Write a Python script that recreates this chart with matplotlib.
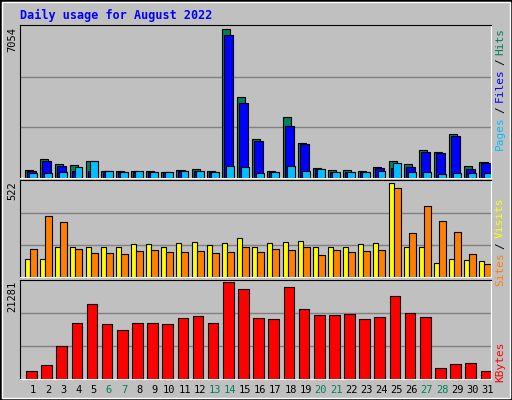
import matplotlib
matplotlib.use("Agg")
import matplotlib.pyplot as plt
from matplotlib.patches import Rectangle
import numpy as np

days = list(range(1, 32))
weekend = [6, 7, 13, 14, 20, 21, 27, 28]
hits = [400, 925, 686, 638, 830, 351, 351, 351, 351, 303, 400, 447, 351, 7054, 3846, 1835, 351, 2889, 1644, 495, 400, 400, 351, 543, 830, 686, 1309, 1213, 2075, 590, 782]
files = [351, 830, 590, 319, 319, 351, 303, 303, 303, 303, 351, 351, 303, 6783, 3559, 1740, 303, 2458, 1596, 447, 303, 303, 303, 495, 479, 543, 1213, 1165, 1979, 447, 734]
pages = [255, 255, 303, 543, 830, 351, 303, 351, 303, 303, 351, 351, 303, 590, 543, 255, 303, 590, 351, 447, 303, 303, 303, 351, 734, 303, 303, 207, 255, 255, 255]
visits = [99, 99, 161, 161, 166, 166, 161, 177, 177, 161, 183, 188, 172, 183, 210, 161, 183, 188, 194, 166, 166, 161, 177, 183, 509, 161, 161, 77, 99, 94, 89]
sites = [155, 332, 299, 155, 133, 133, 127, 144, 149, 138, 138, 144, 133, 138, 166, 138, 155, 149, 166, 122, 149, 138, 144, 149, 482, 238, 387, 304, 243, 127, 72]
kbytes = [1709, 3107, 7301, 12427, 16621, 12194, 10796, 12427, 12427, 12194, 13359, 13825, 12427, 21281, 19884, 13359, 13126, 20350, 15456, 14058, 14058, 14291, 13126, 13592, 18252, 14524, 13592, 2408, 3340, 3573, 1709]

BG = "#C0C0C0"
W, H = 512, 400
fig = plt.figure(figsize=(5.12, 4.0), dpi=100, facecolor=BG)
fig.patches.append(Rectangle((0, 0), 1, 1, transform=fig.transFigure, fill=False, ec="black", lw=2))
fig.patches.append(Rectangle((2/W, 2/H), 1-4/W, 1-4/H, transform=fig.transFigure, fill=False, ec="white", lw=1))

def ax_at(x0, y0, x1, y1):
    ax = fig.add_axes([x0/W, 1-y1/H, (x1-x0)/W, (y1-y0)/H])
    ax.set_facecolor(BG)
    ax.set_xlim(0.14, 31.23)
    for s in ["left", "top"]:
        ax.spines[s].set_color("black")
    for s in ["right", "bottom"]:
        ax.spines[s].set_color("white")
    ax.set_xticks([]); ax.set_yticks([])
    return ax

x = np.array(days, dtype=float)
mono = "DejaVu Sans Mono"

def bars(ax, vals, l, r, color):
    ax.bar(x + l, vals, width=r-l, align="edge", color=color, edgecolor="black", lw=0.8)

def grid(ax, top):
    for f in (1/3, 2/3):
        ax.axhline(top*f, color="#808080", lw=1, zorder=0)

a1 = ax_at(20, 25, 491, 178)
a1.set_ylim(0, max(hits) * 1.03)
grid(a1, max(hits)*1.02)
bars(a1, hits, -0.53, 0.0, "#00805C")
bars(a1, files, -0.4, 0.2, "#0000FF")
bars(a1, pages, -0.26, 0.26, "#00C0FF")
a1.text(-0.005, 0.99, str(max(hits)), transform=a1.transAxes, rotation=90, ha="right", va="top", fontsize=7.5, family=mono)

a2 = ax_at(20, 180, 491, 277)
a2.set_ylim(0, 528)
grid(a2, 520)
bars(a2, visits, -0.53, -0.2, "#FFFF00")
bars(a2, sites, -0.2, 0.26, "#FF8000")
a2.text(-0.005, 0.99, "522", transform=a2.transAxes, rotation=90, ha="right", va="top", fontsize=7.5, family=mono)

a3 = ax_at(20, 280, 491, 379)
a3.set_ylim(0, max(kbytes)*1.025)
grid(a3, max(kbytes)*1.03)
bars(a3, kbytes, -0.46, 0.24, "#FF0000")
a3.text(-0.005, 0.99, str(max(kbytes)), transform=a3.transAxes, rotation=90, ha="right", va="top", fontsize=7.5, family=mono)

for d in days:
    a3.text(d, -0.06, str(d), transform=a3.get_xaxis_transform(), ha="center", va="top",
            fontsize=7.5, family=mono, color="#00805C" if d in weekend else "black")

fig.text(20/W, 1-15/H, "Daily usage for August 2022", color="#0000FF", fontsize=8.5,
         family=mono, weight="bold", va="center", ha="left")

def rlabel(y_top, parts, step=6.9):
    y = y_top
    for txt, col in parts:
        fig.text(500/W, 1-y/H, txt, rotation=90, color=col, fontsize=8, family=mono,
                 ha="center", va="top")
        y += len(txt) * step + 3

rlabel(28, [("Hits", "#00805C"), ("/", "black"), ("Files", "#0000FF"), ("/", "black"), ("Pages", "#00C0FF")])
rlabel(198, [("Visits", "#FFFF00"), ("/", "black"), ("Sites", "#FF8000")])
rlabel(341, [("KBytes", "#FF0000")])

fig.savefig("out.png", dpi=100, facecolor=BG)
